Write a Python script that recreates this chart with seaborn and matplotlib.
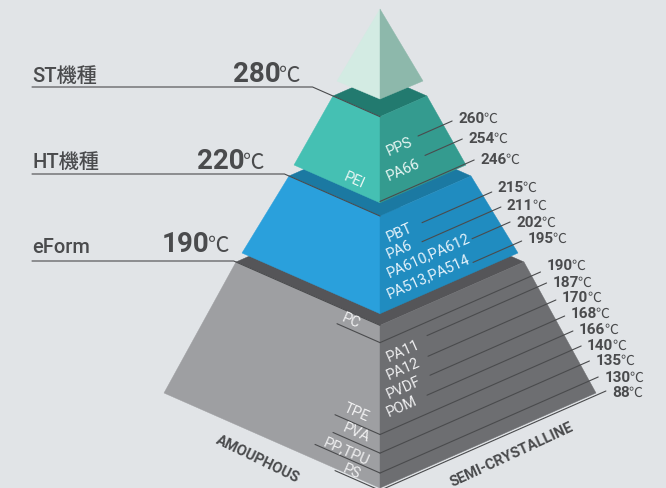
import numpy as np
import matplotlib
matplotlib.use("Agg")
import matplotlib.pyplot as plt
from matplotlib.patches import Polygon

import seaborn as sns
sns.set_theme(style="white")

FONT = ["Roboto", "Noto Sans CJK JP", "DejaVu Sans"]
UNIT_FONT = ["Noto Sans CJK JP", "DejaVu Sans"]
plt.rcParams["font.family"] = FONT

# ---- data ----
tier_names = ["ST機種", "HT機種", "eForm"]
tier_temps = [280, 220, 190]

st_left = ["PEI"]
st_right = ["PPS", "PA66"]
st_temps = [260, 254, 246]

ht_right = ["PBT", "PA6", "PA610,PA612", "PA513,PA514"]
ht_temps = [215, 211, 202, 195]

ef_left = ["PC", "TPE", "PVA", "PP,TPU", "PS"]
ef_right = ["PA11", "PA12", "PVDF", "POM"]
ef_temps = [190, 187, 170, 168, 166, 140, 135, 130, 88]

# ---- layout (pixels, y down) ----
BG = "#e1e4e7"
DARK = "#4a4b4d"
CX = 380
K = 0.44
TIP = (10, 82, 43)  # apex y, base corner y, base half width
# top corner y, top half width, bottom corner y, bottom half width
GEOM = [(97, 47, 166, 86), (177, 91, 254, 138), (263, 144, 394, 216)]
COLORS = [("#227a6f", "#45c0b3", "#349b8f"),
          ("#1b79a2", "#2aa0dc", "#208cc0"),
          ("#555558", "#9e9fa2", "#6d6e71")]
TEXT_COLORS = ["#e8f6f3", "#e6f3fb", "#f0f0f1"]

# right side leaders: end y, start x (None -> front edge), label baseline
leader_y = [[122, 140, 161], [193, 208, 223, 242],
            [273, 284, 301, 317, 332, 347, 362, 378, 392]]
leader_x0 = [[418, 425, None], [422, 422, 472, 473],
             [None, 427, 428, 430, 427, None, None, None, None]]
label_y = [[123, 143, 164], [192, 210, 227, 243],
           [270, 287, 302, 318, 334, 350, 365, 382, 397]]
right_y = [[156, 181], [242, 259, 277, 298], [362, 380, 399, 417]]
left_pos = [[(362, 189)], [],
            [(358, 329), (367, 422), (367, 442), (367, 465), (358, 479)]]
left_x0 = [[], [], [337, 335, 333, 315, 335]]
left_pair = [[], [], [0, 5, 6, 7, 8]]

head_y = [88, 175, 262]
head_num_x = [233, 197, 162]
head_num_y = [82, 169, 252]
head_name_y = [82, 168, 253]

fig = plt.figure(figsize=(6.66, 4.89), dpi=100)
fig.patch.set_facecolor(BG)
ax = fig.add_axes([0, 0, 1, 1])
ax.set_facecolor(BG)
ax.set_xlim(0, 666)
ax.set_ylim(489, 0)
ax.axis("off")
renderer = fig.canvas.get_renderer()


def poly(pts, color, z=1):
    ax.add_patch(Polygon(pts, closed=True, facecolor=color, edgecolor=color,
                         linewidth=0.3, zorder=z))


def temp_label(x, y, val, size, usize, weight="bold"):
    t = ax.text(x, y, str(val), fontsize=size, fontweight=weight, color=DARK,
                ha="left", va="baseline", zorder=10)
    bb = t.get_window_extent(renderer)
    x1 = ax.transData.inverted().transform((bb.x1, bb.y0))[0]
    ax.text(x1 - usize * 0.12, y, "℃", fontsize=usize, color=DARK,
            family=UNIT_FONT, ha="left", va="baseline", zorder=10)


def right_edge(i, y):
    yt, wt, yb, wb = GEOM[i]
    return CX + wt + (y - yt) * (wb - wt) / (yb - yt)


# tiers from the bottom up
for i in [2, 1, 0]:
    yt, wt, yb, wb = GEOM[i]
    top, left, right = COLORS[i]
    z = 3 * (2 - i)
    poly([(CX - wt, yt), (CX, yt - K * wt), (CX + wt, yt), (CX, yt + K * wt)], top, 1 + z)
    poly([(CX - wt, yt), (CX, yt + K * wt), (CX, yb + K * wb), (CX - wb, yb)], left, 2 + z)
    poly([(CX + wt, yt), (CX, yt + K * wt), (CX, yb + K * wb), (CX + wb, yb)], right, 2 + z)

apex, tb, th = TIP
poly([(CX, apex), (CX - th, tb), (CX, tb + 0.42 * th)], "#d3ebe3", 9)
poly([(CX, apex), (CX + th, tb), (CX, tb + 0.42 * th)], "#8db8ab", 9)

lw = 0.8
temps = [st_temps, ht_temps, ef_temps]
rights = [st_right, ht_right, ef_right]
lefts = [st_left, [], ef_left]

for i in range(3):
    # heading and its leader
    yt, wt = GEOM[i][0], GEOM[i][1]
    yf = yt + K * wt
    y0 = head_y[i]
    xb = CX - (yf - y0) / K
    ax.plot([32, xb, CX], [y0, y0, yf], color=DARK, lw=lw, zorder=10)
    ax.text(32, head_name_y[i], tier_names[i], fontsize=14.5, fontweight="medium",
            color=DARK, ha="left", va="baseline", zorder=10)
    temp_label(head_num_x[i], head_num_y[i], tier_temps[i], 20, 15.5)

    # right side temperatures
    fronts = []
    for ye, xs, tv, ly in zip(leader_y[i], leader_x0[i], temps[i], label_y[i]):
        xe = right_edge(i, ye) + 11
        x0 = CX if xs is None else xs
        ys = ye + K * (xe - x0)
        fronts.append(ye + K * (xe - CX))
        ax.plot([x0, xe], [ys, ye], color=DARK, lw=lw, zorder=10)
        temp_label(xe + 6, ly, tv, 11, 10)

    # labels on faces
    for name, yy in zip(rights[i], right_y[i]):
        ax.text(389, yy, name, fontsize=10.5, color=TEXT_COLORS[i],
                rotation=24, rotation_mode="anchor", ha="left", va="baseline", zorder=11)
    for name, (xx, yy) in zip(lefts[i], left_pos[i]):
        ax.text(xx, yy, name, fontsize=10.5, color=TEXT_COLORS[i],
                rotation=-24, rotation_mode="anchor", ha="right", va="baseline", zorder=11)
    for xs, p in zip(left_x0[i], left_pair[i]):
        yf2 = fronts[p]
        ax.plot([xs, CX], [yf2 - K * (CX - xs), yf2], color=DARK, lw=lw, zorder=10)

ax.text(258, 459, "AMOUPHOUS", fontsize=10.5, fontweight="bold", color=DARK,
        rotation=-26, ha="center", va="center", zorder=10)
ax.text(512, 455, "SEMI-CRYSTALLINE", fontsize=10.5, fontweight="bold", color=DARK,
        rotation=25, ha="center", va="center", zorder=10)

fig.savefig("out.png", dpi=100, facecolor=BG)
